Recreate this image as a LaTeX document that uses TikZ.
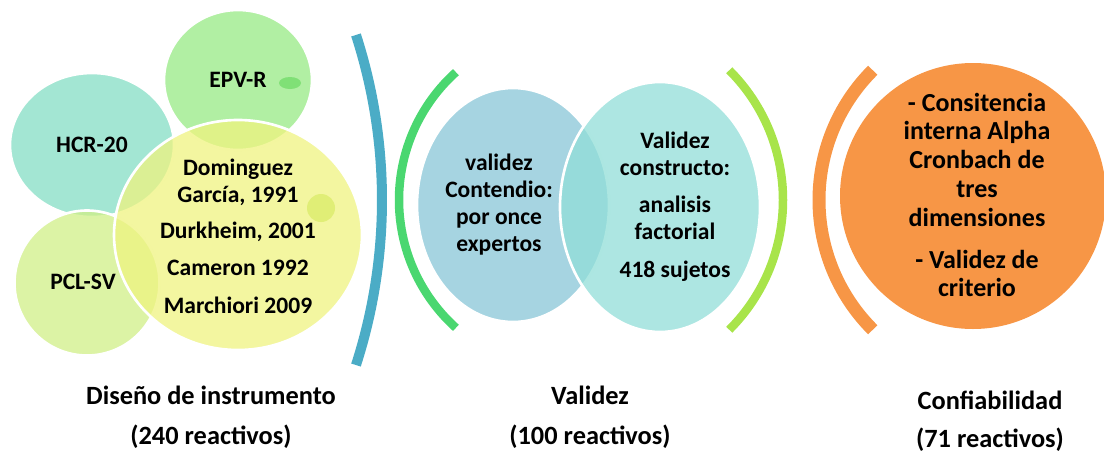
\documentclass[tikz,border=0pt]{standalone}
\usepackage{fontspec}
\setmainfont{Carlito}
\usetikzlibrary{shapes.geometric}

\definecolor{hcrc}{RGB}{132,222,196}
\definecolor{epvc}{RGB}{151,234,132}
\definecolor{pclc}{RGB}{208,239,135}
\definecolor{autc}{RGB}{239,243,128}
\definecolor{epvdot}{RGB}{128,224,118}
\definecolor{autdot}{RGB}{224,238,118}
\definecolor{valc}{RGB}{150,205,220}
\definecolor{consc}{RGB}{145,222,216}
\definecolor{bluec}{RGB}{75,172,198}
\definecolor{greenc}{RGB}{74,215,112}
\definecolor{limec}{RGB}{168,228,74}
\definecolor{orangec}{RGB}{247,150,70}

\tikzset{
  bubble/.style={ellipse, draw=white, line width=1.5pt, fill opacity=0.75, inner sep=0pt},
  txt/.style={font=\bfseries\fontsize{13.4}{15.3}\selectfont, align=center},
  bigtxt/.style={font=\bfseries\fontsize{14.8}{16.4}\selectfont, align=center},
  stagetxt/.style={font=\bfseries\fontsize{15}{22.7}\selectfont, align=center},
  band/.style={line width=0.17cm},
}

\begin{document}
\begin{tikzpicture}
  \useasboundingbox (0,0) rectangle (22.08,-9.06);

  % first stage: instruments and authors
  \node[bubble, fill=hcrc, minimum width=3.28cm, minimum height=2.88cm] (hcr) at (1.84,-2.90) {};
  \node[bubble, fill=pclc, minimum width=2.90cm, minimum height=2.90cm] (pcl) at (1.74,-5.66) {};
  \node[bubble, fill=epvc, minimum width=2.96cm, minimum height=2.80cm] (epv) at (4.76,-1.60) {};
  \fill[epvdot] (5.80,-1.66) ellipse (0.22 and 0.12);
  \node[bubble, fill=autc, minimum width=4.96cm, minimum height=4.60cm] (aut) at (4.76,-4.70) {};
  \fill[autdot] (6.42,-4.16) circle (0.28);

  % brackets
  \draw[band, line width=0.2cm, bluec] (-3.10,-4.0) ++(-17.9:10.74) arc[start angle=-17.9, end angle=17.9, radius=10.74];
  \draw[band, greenc] (11.42,-4.0) ++(132:3.44) arc[start angle=132, end angle=228, radius=3.44];
  \draw[band, limec] (11.99,-4.0) ++(-45:3.67) arc[start angle=-45, end angle=45, radius=3.67];
  \draw[band, line width=0.26cm, orangec] (20.05,-4.0) ++(135:3.67) arc[start angle=135, end angle=225, radius=3.67];

  % second and third stage
  \node[bubble, fill=valc, fill opacity=0.85, minimum width=3.84cm, minimum height=4.68cm] (val) at (10.26,-4.10) {};
  \node[bubble, fill=consc, minimum width=4.00cm, minimum height=5.00cm] (cons) at (13.20,-4.14) {};
  \node[bubble, draw=none, fill=orangec, fill opacity=1, minimum width=5.32cm, minimum height=5.32cm] (conf) at (19.46,-3.92) {};

  % texts
  \node[txt] (hcr-t) at (hcr) {HCR-20};
  \node[txt] (epv-t) at (epv) {EPV-R};
  \node[txt] (pcl-t) at (1.66,-5.64) {PCL-SV};
  \node[txt] (aut-t) at (4.76,-4.73) {Dominguez\\García, 1991\\[5pt]Durkheim, 2001\\[6pt]Cameron 1992\\[6pt]Marchiori 2009};
  \node[txt] (val-t) at (9.98,-4.09) {validez\\Contendio:\\por once\\expertos};
  \node[txt] (cons-t) at (13.50,-4.13) {Validez\\constructo:\\[5.7pt]analisis\\factorial\\[6.3pt]418 sujetos};
  \node[bigtxt] (conf-t) at (19.54,-3.90) {- Consitencia\\interna Alpha\\Cronbach de\\tres\\dimensiones\\[7.4pt]- Validez de\\criterio};

  % stage labels
  \node[stagetxt] (stage1) at (4.22,-8.34) {Diseño de instrumento\\(240 reactivos)};
  \node[stagetxt] (stage2) at (11.80,-8.34) {Validez\\(100 reactivos)};
  \node[stagetxt, font=\bfseries\fontsize{15}{21.5}\selectfont] (stage3) at (19.80,-8.42) {Confiabilidad\\(71 reactivos)};
\end{tikzpicture}
\end{document}
